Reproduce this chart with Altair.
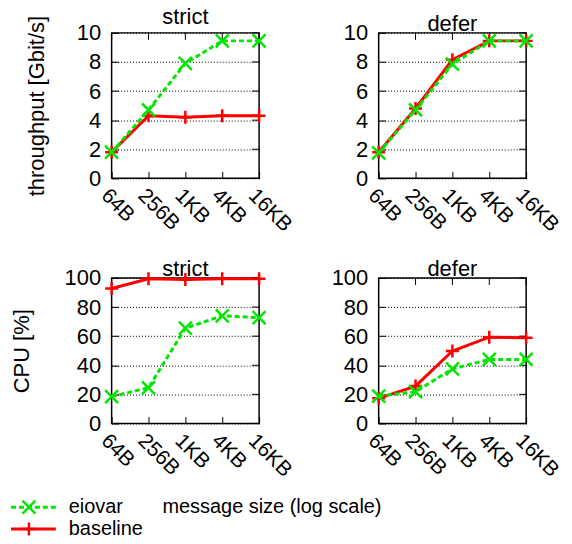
import altair as alt
import pandas as pd

sizes = ["64B", "256B", "1KB", "4KB", "16KB"]
series_names = ["eiovar", "baseline"]
modes = ["strict", "defer"]

tput_strict_eiovar = [1.8, 4.7, 7.9, 9.45, 9.45]
tput_strict_baseline = [1.8, 4.3, 4.2, 4.3, 4.3]
tput_defer_eiovar = [1.75, 4.7, 7.85, 9.45, 9.45]
tput_defer_baseline = [1.8, 4.8, 8.15, 9.45, 9.45]
cpu_strict_eiovar = [18.5, 24.5, 65.5, 74.0, 72.8]
cpu_strict_baseline = [92.8, 99.5, 98.9, 99.5, 99.5]
cpu_defer_eiovar = [18.8, 21.8, 37.5, 44.0, 44.0]
cpu_defer_baseline = [17.3, 25.7, 49.8, 59.3, 59.0]

tput_ticks = [0, 2, 4, 6, 8, 10]
cpu_ticks = [0, 20, 40, 60, 80, 100]
tput_title = "throughput [Gbit/s]"
cpu_title = "CPU [%]"
x_title = "message size (log scale)"

GREEN = "#00e600"
RED = "#ff0000"
FONT = "Liberation Sans"
X_PATH = "M-1,-1L1,1M-1,1L1,-1"
PLUS_PATH = "M-1,0L1,0M0,-1L0,1"
W, H = 148, 146
TICK = 7


def panel(mode, eio, base, ymax, yticks, ytitle, tpad):
    df = pd.DataFrame({
        "size": sizes * 2,
        "series": ["baseline"] * len(sizes) + ["eiovar"] * len(sizes),
        "value": list(base) + list(eio),
    })
    xscale = alt.Scale(type="point", domain=sizes, padding=0)
    yscale = alt.Scale(domain=[0, ymax], nice=False)
    x_main = alt.X("size:N", sort=sizes, scale=xscale, axis=alt.Axis(
        title=None, labelAngle=45, labelAlign="left", labelBaseline="top",
        labelPadding=6, labelFontSize=21, offset=-TICK, tickSize=TICK,
        domain=False, grid=False, labelOverlap=False, tickColor="black"))
    y_axis_kw = dict(values=yticks, offset=-TICK, tickSize=TICK, domain=False,
                     grid=True, gridDash=[1, 2], gridColor="black",
                     gridWidth=1, labelPadding=11, labelOverlap=False,
                     tickColor="black")
    if ytitle:
        y_main = alt.Y("value:Q", scale=yscale,
                       axis=alt.Axis(title=ytitle, titlePadding=tpad, **y_axis_kw))
    else:
        y_main = alt.Y("value:Q", scale=yscale,
                       axis=alt.Axis(title=None, **y_axis_kw))
    x_none = alt.X("size:N", sort=sizes, scale=xscale, axis=None)
    y_none = alt.Y("value:Q", scale=yscale, axis=None)

    chart = alt.Chart(df)
    top_ticks = alt.Chart(pd.DataFrame({"size": sizes})).mark_rule(
        color="black", strokeWidth=1).encode(
        x=x_none, y=alt.value(0), y2=alt.value(TICK))
    right_ticks = alt.Chart(pd.DataFrame({"value": yticks})).mark_rule(
        color="black", strokeWidth=1).encode(
        y=y_none, x=alt.value(W - TICK), x2=alt.value(W))
    base_line = chart.mark_line(color=RED, strokeWidth=3).encode(
        x=x_main, y=y_main).transform_filter(alt.datum.series == "baseline")
    base_pts = chart.mark_point(shape=PLUS_PATH, size=169, color=RED,
                                strokeWidth=2.5, filled=False, opacity=1).encode(
        x=x_none, y=y_none).transform_filter(alt.datum.series == "baseline")
    eio_line = chart.mark_line(color=GREEN, strokeWidth=3, strokeDash=[5, 3]).encode(
        x=x_none, y=y_none).transform_filter(alt.datum.series == "eiovar")
    eio_pts = chart.mark_point(shape=X_PATH, size=169, color=GREEN,
                               strokeWidth=2.5, filled=False, opacity=1).encode(
        x=x_none, y=y_none).transform_filter(alt.datum.series == "eiovar")
    return alt.layer(base_line, top_ticks, right_ticks, base_pts, eio_line, eio_pts).resolve_axis(
        x="independent", y="independent").properties(
        width=W, height=H,
        title=alt.TitleParams(mode, fontSize=22, font=FONT, fontWeight="normal",
                              color="black", offset=-14, anchor="middle", frame="group"))


p11 = panel("strict", tput_strict_eiovar, tput_strict_baseline, 10, tput_ticks, tput_title, 28)
p12 = panel("defer", tput_defer_eiovar, tput_defer_baseline, 10, tput_ticks, None, 28)
p21 = panel("strict", cpu_strict_eiovar, cpu_strict_baseline, 100, cpu_ticks, cpu_title, 31)
p22 = panel("defer", cpu_defer_eiovar, cpu_defer_baseline, 100, cpu_ticks, None, 31)

leg_df = pd.DataFrame({"series": series_names})
leg = alt.Chart(leg_df)
leg_y = alt.Y("series:N", scale=alt.Scale(type="point", domain=series_names, range=[-16, 6], padding=0), axis=None)
leg_color = alt.Color("series:N", scale=alt.Scale(domain=series_names, range=[GREEN, RED]), legend=None)
leg_rule = leg.mark_rule(strokeWidth=3).encode(
    x=alt.value(-101), x2=alt.value(-56), y=leg_y, color=leg_color,
    strokeDash=alt.StrokeDash("series:N", scale=alt.Scale(domain=series_names, range=[[5, 3], [1, 0]]), legend=None))
leg_pts = leg.mark_point(size=169, filled=False, strokeWidth=2.5, opacity=1).encode(
    x=alt.value(-83), y=leg_y, color=leg_color,
    shape=alt.Shape("series:N", scale=alt.Scale(domain=series_names, range=[X_PATH, PLUS_PATH]), legend=None))
leg_text = leg.mark_text(align="left", baseline="middle", fontSize=20, font=FONT, color="black").encode(
    x=alt.value(-43), y=leg_y, text="series:N")
xt = alt.Chart(pd.DataFrame({"label": [x_title]})).mark_text(
    align="left", baseline="middle", fontSize=20, font=FONT, color="black").encode(
    x=alt.value(51), y=alt.value(-16), text="label:N")
legend = alt.layer(leg_rule, leg_pts, leg_text, xt).properties(
    width=1, height=1, view=alt.ViewBackground(stroke="transparent"))

chart = alt.concat(p11, p12, p21, p22, legend, columns=2,
                   spacing=alt.RowColnumber(row=100, column=120),
                   bounds="flush").properties(
    padding={"top": -4, "left": 0, "right": 0, "bottom": 0}).configure(font=FONT).configure_view(
    stroke="black", strokeWidth=1.5).configure_axis(
    labelFont=FONT, labelFontSize=22, labelColor="black",
    titleFont=FONT, titleFontSize=22, titleColor="black", titleFontWeight="normal")

chart.save("out.html", embed_options={"renderer": "svg", "actions": False})
